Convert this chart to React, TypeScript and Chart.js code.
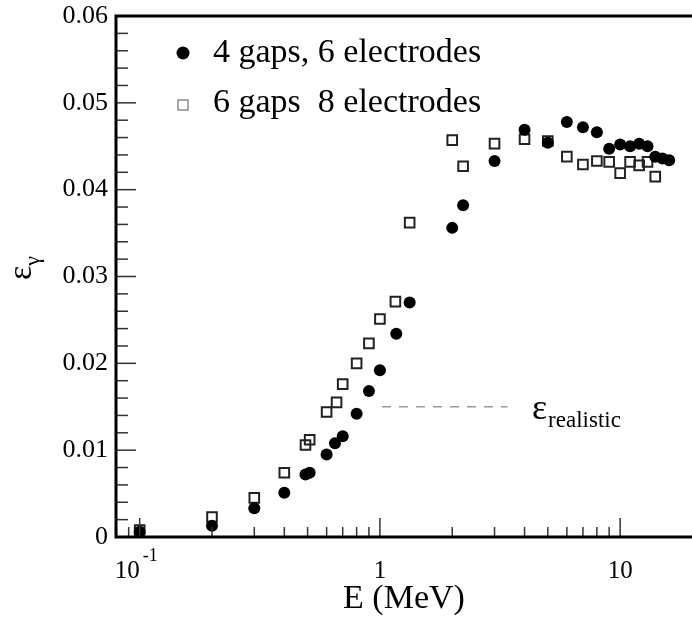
import React, { useEffect, useRef } from "react";
import { Chart, registerables } from "chart.js";

Chart.register(...registerables);

// ---- data ----
const energies4gaps = [0.1, 0.2, 0.3, 0.4, 0.49, 0.51, 0.6, 0.65, 0.7, 0.8, 0.9, 1.0, 1.17, 1.33, 2.0, 2.22, 3.0, 4.0, 5.0, 6.0, 7.0, 8.0, 9.0, 10, 11, 12, 13, 14, 15, 16];
const eff4gaps = [0.0006, 0.0013, 0.0033, 0.0051, 0.0072, 0.0074, 0.0095, 0.0108, 0.0116, 0.0142, 0.0168, 0.0192, 0.0234, 0.027, 0.0356, 0.0382, 0.0433, 0.0469, 0.0454, 0.0478, 0.0472, 0.0466, 0.0447, 0.0452, 0.045, 0.0453, 0.045, 0.0438, 0.0436, 0.0434];
const energies6gaps = [0.1, 0.2, 0.3, 0.4, 0.49, 0.51, 0.6, 0.66, 0.7, 0.8, 0.9, 1.0, 1.16, 1.33, 2.0, 2.22, 3.0, 4.0, 5.0, 6.0, 7.0, 8.0, 9.0, 10, 11, 12, 13, 14];
const eff6gaps = [0.0008, 0.0023, 0.0045, 0.0074, 0.0106, 0.0112, 0.0144, 0.0155, 0.0176, 0.02, 0.0223, 0.0251, 0.0271, 0.0362, 0.0457, 0.0427, 0.0453, 0.0458, 0.0456, 0.0438, 0.0429, 0.0433, 0.0432, 0.0419, 0.0432, 0.0428, 0.0432, 0.0415];
const realisticRange = [1.02, 3.4];
const realisticValue = 0.015;
const legendLabels = ["4 gaps, 6 electrodes", "6 gaps  8 electrodes"];
const xTickValues = [0.1, 1, 10];
const xTickLabels = [["10", "-1"], ["1", ""], ["10", ""]];
const X_MIN = 0.0797;
const X_MAX = 18.3;
const Y_MIN = 0;
const Y_MAX = 0.06;

const SERIF = "'Liberation Serif', 'Times New Roman', serif";

const framePlugin = {
  id: "framePlugin",
  afterDraw(chart: any) {
    const ctx = chart.ctx as CanvasRenderingContext2D;
    const { left, top, bottom } = chart.chartArea;
    const W = chart.width;
    const xs = chart.scales.x;
    const ys = chart.scales.y;
    ctx.save();
    // ticks
    ctx.strokeStyle = "#333";
    ctx.lineWidth = 1.5;
    for (let i = 0; i <= 30; i++) {
      const py = ys.getPixelForValue(i * 0.002);
      const len = i % 5 === 0 ? 20 : 12;
      ctx.beginPath();
      ctx.moveTo(left, py);
      ctx.lineTo(left + len, py);
      ctx.stroke();
    }
    for (let d = -2; d <= 1; d++) {
      for (let k = 1; k <= 9; k++) {
        const v = k * Math.pow(10, d);
        if (v < X_MIN || v > X_MAX) continue;
        const px = xs.getPixelForValue(v);
        const len = k === 1 ? 19 : 10;
        ctx.beginPath();
        ctx.moveTo(px, bottom);
        ctx.lineTo(px, bottom - len);
        ctx.stroke();
      }
    }
    // frame
    ctx.strokeStyle = "#000";
    ctx.lineWidth = 3;
    ctx.beginPath();
    ctx.moveTo(W, top);
    ctx.lineTo(left, top);
    ctx.lineTo(left, bottom);
    ctx.lineTo(W, bottom);
    ctx.stroke();

    // x tick labels
    ctx.fillStyle = "#000";
    ctx.textBaseline = "middle";
    ctx.textAlign = "left";
    xTickValues.forEach((v, i) => {
      const px = xs.getPixelForValue(v);
      const [main, sup] = xTickLabels[i];
      ctx.font = `25px ${SERIF}`;
      const mw = ctx.measureText(main).width;
      const x0 = sup ? px - 25 : px - mw / 2;
      ctx.fillText(main, x0, 571);
      if (sup) {
        ctx.font = `18px ${SERIF}`;
        ctx.fillText(sup, x0 + mw + 3, 556);
      }
    });

    // x title
    ctx.font = `34px ${SERIF}`;
    ctx.textAlign = "center";
    ctx.textBaseline = "alphabetic";
    ctx.fillText("E (MeV)", 404, 608);

    // y title
    ctx.save();
    ctx.translate(31, 272);
    ctx.rotate(-Math.PI / 2);
    ctx.textAlign = "left";
    ctx.font = `34px ${SERIF}`;
    ctx.fillText("ε", -8, 0);
    const ew = ctx.measureText("ε").width;
    ctx.font = `22px ${SERIF}`;
    ctx.fillText("γ", -8 + ew, 8);
    ctx.restore();

    // realistic label
    ctx.textAlign = "left";
    ctx.font = `36px ${SERIF}`;
    ctx.fillText("ε", 532, 419);
    const ew2 = ctx.measureText("ε").width;
    ctx.font = `23px ${SERIF}`;
    ctx.fillText("realistic", 533 + ew2, 427);

    // legend
    ctx.font = `34px ${SERIF}`;
    ctx.textAlign = "left";
    ctx.fillText(legendLabels[0], 213, 62);
    ctx.fillText(legendLabels[1], 213, 112);
    ctx.fillStyle = "#000";
    ctx.beginPath();
    ctx.arc(183, 53, 6.5, 0, Math.PI * 2);
    ctx.fill();
    ctx.strokeStyle = "#555";
    ctx.lineWidth = 1;
    ctx.strokeRect(178, 100, 10, 10);
    ctx.restore();
  },
};

export default function App() {
  const ref = useRef<HTMLCanvasElement | null>(null);
  useEffect(() => {
    document.body.style.margin = "0";
    const canvas = ref.current;
    if (!canvas) return;
    const chart = new Chart(canvas, {
      type: "scatter",
      data: {
        datasets: [
          {
            label: legendLabels[0],
            data: energies4gaps.map((x, i) => ({ x, y: eff4gaps[i] })),
            pointStyle: "circle",
            pointRadius: 6,
            backgroundColor: "#000",
            borderColor: "#000",
            borderWidth: 0,
          },
          {
            label: legendLabels[1],
            data: energies6gaps.map((x, i) => ({ x, y: eff6gaps[i] })),
            pointStyle: "rect",
            pointRadius: 6.8,
            backgroundColor: "rgba(0,0,0,0)",
            borderColor: "#222",
            borderWidth: 2,
          },
          {
            type: "line",
            label: "realistic",
            data: realisticRange.map((x) => ({ x, y: realisticValue })),
            borderColor: "#999",
            borderWidth: 1.5,
            borderDash: [9, 8],
            pointRadius: 0,
            fill: false,
          } as any,
        ],
      },
      options: {
        animation: false,
        responsive: false,
        layout: { padding: { top: 16, bottom: 86, left: 0, right: 0 } },
        plugins: { legend: { display: false }, tooltip: { enabled: false } },
        scales: {
          x: { type: "logarithmic", min: X_MIN, max: X_MAX, display: false },
          y: {
            min: Y_MIN,
            max: Y_MAX,
            afterFit: (s: any) => {
              s.width = 116;
              s.paddingTop = 0;
              s.paddingBottom = 0;
            },
            grid: { display: false, drawTicks: false, tickLength: 0 },
            border: { display: false },
            ticks: {
              stepSize: 0.002,
              autoSkip: false,
              padding: 8,
              color: "#000",
              font: { family: SERIF, size: 26 },
              callback: (v: any) => {
                const n = Number(v);
                const r = Math.round(n * 100);
                if (Math.abs(n * 100 - r) > 1e-6) return "";
                return r === 0 ? "0" : (r / 100).toFixed(2);
              },
            },
          },
        },
      },
      plugins: [framePlugin],
    });
    return () => chart.destroy();
  }, []);
  return (
    <div style={{ width: 692, height: 623 }}>
      <canvas ref={ref} width={692} height={623} style={{ display: "block" }} />
    </div>
  );
}
